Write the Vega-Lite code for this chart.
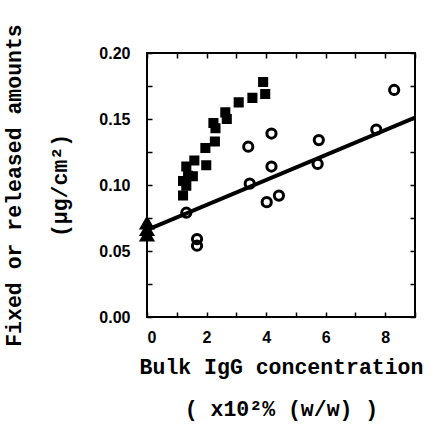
{
  "$schema": "https://vega.github.io/schema/vega-lite/v6.json",
  "autosize": "none",
  "width": 268,
  "height": 264,
  "padding": {"left": 147, "top": 53, "right": 22, "bottom": 108},
  "background": "white",
  "config": {
    "view": {"stroke": "black", "strokeWidth": 2},
    "axis": {
      "domain": false, "tickColor": "black", "tickWidth": 1.5, "tickSize": 5, "offset": -5,
      "grid": false, "labelFont": "Liberation Sans", "labelFontWeight": "bold", "labelFontSize": 16,
      "labelColor": "black", "titleFont": "Liberation Mono", "titleFontWeight": "bold",
      "titleFontSize": 21.5, "titleColor": "black"
    }
  },
  "datasets": {
    "fit": [{"conc": 0, "amount": 0.066}, {"conc": 9, "amount": 0.151}],
    "pts": [
      {"conc": 1.21, "amount": 0.092, "type": "fixed"},
      {"conc": 1.32, "amount": 0.0995, "type": "fixed"},
      {"conc": 1.21, "amount": 0.103, "type": "fixed"},
      {"conc": 1.38, "amount": 0.107, "type": "fixed"},
      {"conc": 1.54, "amount": 0.1066, "type": "fixed"},
      {"conc": 1.32, "amount": 0.114, "type": "fixed"},
      {"conc": 1.59, "amount": 0.1186, "type": "fixed"},
      {"conc": 1.99, "amount": 0.115, "type": "fixed"},
      {"conc": 1.96, "amount": 0.128, "type": "fixed"},
      {"conc": 2.28, "amount": 0.133, "type": "fixed"},
      {"conc": 2.3, "amount": 0.143, "type": "fixed"},
      {"conc": 2.23, "amount": 0.147, "type": "fixed"},
      {"conc": 2.63, "amount": 0.155, "type": "fixed"},
      {"conc": 2.68, "amount": 0.15, "type": "fixed"},
      {"conc": 3.08, "amount": 0.1626, "type": "fixed"},
      {"conc": 3.54, "amount": 0.166, "type": "fixed"},
      {"conc": 3.97, "amount": 0.169, "type": "fixed"},
      {"conc": 3.9, "amount": 0.178, "type": "fixed"},
      {"conc": 1.32, "amount": 0.079, "type": "released"},
      {"conc": 1.68, "amount": 0.059, "type": "released"},
      {"conc": 1.68, "amount": 0.054, "type": "released"},
      {"conc": 3.45, "amount": 0.101, "type": "released"},
      {"conc": 3.4, "amount": 0.129, "type": "released"},
      {"conc": 4.18, "amount": 0.139, "type": "released"},
      {"conc": 4.18, "amount": 0.114, "type": "released"},
      {"conc": 4.02, "amount": 0.087, "type": "released"},
      {"conc": 4.43, "amount": 0.092, "type": "released"},
      {"conc": 5.77, "amount": 0.134, "type": "released"},
      {"conc": 5.73, "amount": 0.116, "type": "released"},
      {"conc": 7.7, "amount": 0.142, "type": "released"},
      {"conc": 8.3, "amount": 0.172, "type": "released"},
      {"conc": 0, "amount": 0.071, "type": "initial"},
      {"conc": 0, "amount": 0.066, "type": "initial"},
      {"conc": 0, "amount": 0.062, "type": "initial"}
    ]
  },
  "layer": [
    {
      "data": {"name": "fit"},
      "mark": {"type": "line", "color": "black", "strokeWidth": 4, "clip": true},
      "encoding": {
        "x": {"field": "conc", "type": "quantitative", "scale": {"domain": [0, 9], "nice": false},
          "axis": {"orient": "bottom", "values": [0,1,2,3,4,5,6,7,8,9], "labelExpr": "datum.value % 2 == 0 && datum.value < 9 ? datum.label : ''",
            "labelPadding": 12, "title": ["Bulk IgG concentration", "( x10²% (w/w) )"], "titleLineHeight": 42, "titlePadding": 11}},
        "y": {"field": "amount", "type": "quantitative", "scale": {"domain": [0, 0.2], "nice": false},
          "axis": {"orient": "left", "values": [0,0.025,0.05,0.075,0.1,0.125,0.15,0.175,0.2], "labelExpr": "(round(datum.value*1000) % 50 == 0) ? format(datum.value, '.2f') : ''",
            "labelPadding": 17, "title": ["Fixed or released amounts", "(μg/cm²)"], "titleLineHeight": 46, "titlePadding": 27}}
      }
    },
    {
      "data": {"name": "pts"},
      "mark": {"type": "point", "strokeWidth": 3, "opacity": 1, "stroke": "black"},
      "encoding": {
        "x": {"field": "conc", "type": "quantitative",
          "axis": {"orient": "top", "values": [0,1,2,3,4,5,6,7,8,9], "labels": false, "title": null}},
        "y": {"field": "amount", "type": "quantitative",
          "axis": {"orient": "right", "values": [0,0.025,0.05,0.075,0.1,0.125,0.15,0.175,0.2], "labels": false, "title": null}},
        "shape": {"field": "type", "type": "nominal", "legend": null,
          "scale": {"domain": ["fixed", "released", "initial"], "range": ["square", "circle", "triangle-up"]}},
        "fill": {"field": "type", "type": "nominal", "legend": null,
          "scale": {"domain": ["fixed", "released", "initial"], "range": ["black", "transparent", "black"]}},
        "size": {"field": "type", "type": "nominal", "legend": null,
          "scale": {"domain": ["fixed", "released", "initial"], "range": [50, 120, 55]}}
      }
    }
  ],
  "resolve": {"axis": {"x": "independent", "y": "independent"}}
}
